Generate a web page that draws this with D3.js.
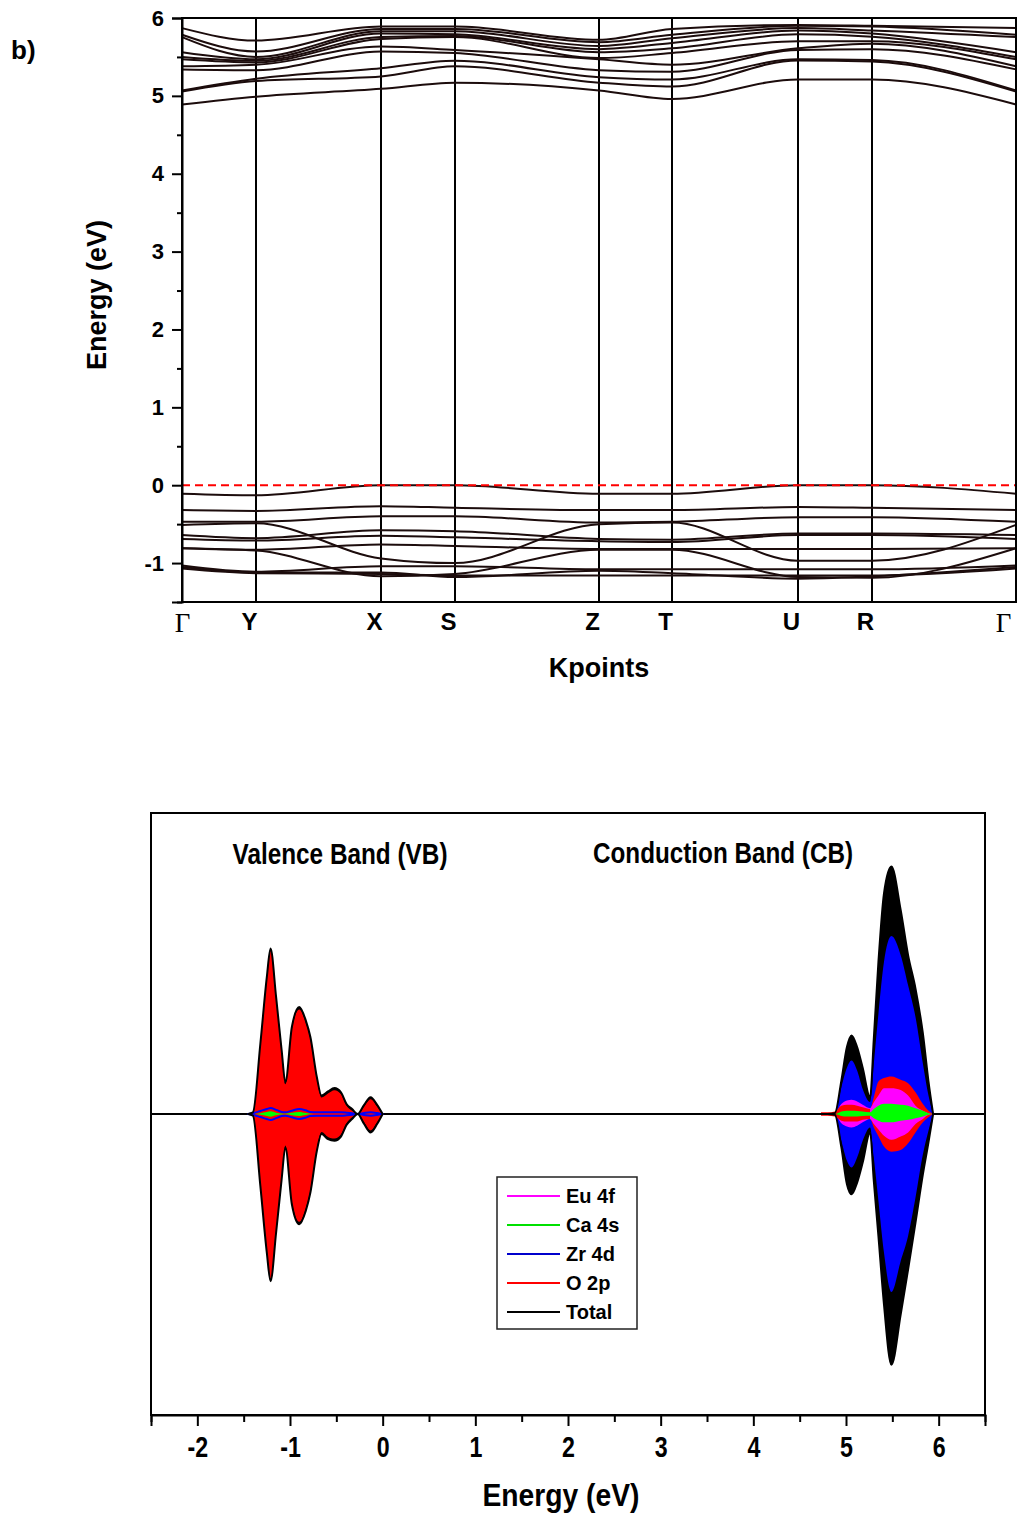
<!DOCTYPE html>
<html>
<head>
<meta charset="utf-8">
<script src="https://cdn.jsdelivr.net/npm/d3@7"></script>
<style>
  body { margin: 0; background: #fff; }
  svg { display: block; font-family: "Liberation Sans", Arial, sans-serif; }
</style>
</head>
<body>
<svg id="chart" width="1018" height="1519"></svg>
<script>
// ---- band structure data ----
const kLabels = ["Γ", "Y", "X", "S", "Z", "T", "U", "R", "Γ"];
const kDist = [0, 0.74, 1.99, 2.73, 4.17, 4.90, 6.16, 6.90, 8.34];
const energyTicks = [-1, 0, 1, 2, 3, 4, 5, 6];
const energyMinor = [-1.5, -0.5, 0.5, 1.5, 2.5, 3.5, 4.5, 5.5];

// values at Γ, Y, X, S, Z, T, U, R, Γ
const valenceBands = [
  [-0.11, -0.13, 0.00, 0.00, -0.11, -0.11, 0.00, 0.00, -0.11],
  [-0.32, -0.33, -0.27, -0.29, -0.32, -0.32, -0.28, -0.29, -0.32],
  [-0.47, -0.47, -0.40, -0.40, -0.48, -0.47, -0.41, -0.41, -0.47],
  [-0.51, -0.49, -0.94, -1.00, -0.50, -0.48, -0.97, -0.97, -0.51],
  [-0.64, -0.68, -0.58, -0.59, -0.69, -0.70, -0.62, -0.62, -0.64],
  [-0.69, -0.71, -0.65, -0.67, -0.72, -0.73, -0.64, -0.64, -0.69],
  [-0.81, -0.83, -0.76, -0.78, -0.82, -0.82, -0.82, -0.82, -0.81],
  [-0.81, -0.84, -1.17, -1.14, -0.83, -0.83, -1.18, -1.19, -0.81],
  [-1.03, -1.11, -1.04, -1.04, -1.08, -1.08, -1.08, -1.08, -1.03],
  [-1.05, -1.12, -1.12, -1.18, -1.10, -1.13, -1.20, -1.17, -1.05],
  [-1.07, -1.13, -1.14, -1.16, -1.16, -1.16, -1.16, -1.16, -1.07]
];
const conductionBands = [
  [4.89, 4.99, 5.09, 5.17, 5.07, 4.96, 5.21, 5.21, 4.89],
  [5.055, 5.19, 5.25, 5.38, 5.17, 5.12, 5.455, 5.44, 5.055],
  [5.07, 5.22, 5.355, 5.45, 5.24, 5.21, 5.47, 5.46, 5.07],
  [5.34, 5.33, 5.57, 5.55, 5.33, 5.31, 5.59, 5.60, 5.34],
  [5.38, 5.40, 5.635, 5.59, 5.47, 5.40, 5.61, 5.67, 5.38],
  [5.47, 5.43, 5.73, 5.755, 5.485, 5.55, 5.70, 5.70, 5.47],
  [5.50, 5.45, 5.755, 5.77, 5.56, 5.61, 5.79, 5.76, 5.50],
  [5.56, 5.47, 5.80, 5.79, 5.60, 5.68, 5.84, 5.80, 5.56],
  [5.755, 5.50, 5.83, 5.83, 5.64, 5.74, 5.87, 5.84, 5.755],
  [5.785, 5.57, 5.86, 5.86, 5.69, 5.785, 5.90, 5.89, 5.785],
  [5.87, 5.71, 5.89, 5.89, 5.72, 5.86, 5.91, 5.90, 5.87]
];

// ---- density of states data ----
const dosTicks = [-2, -1, 0, 1, 2, 3, 4, 5, 6];
const dosMinor = [-2.5, -1.5, -0.5, 0.5, 1.5, 2.5, 3.5, 4.5, 5.5, 6.5];

const vbEnergy = [-1.45, -1.40, -1.32, -1.25, -1.21, -1.15, -1.09, -1.05, -0.98, -0.90, -0.83, -0.78, -0.71, -0.66, -0.59, -0.52, -0.45, -0.39, -0.33, -0.27, -0.20, -0.13, -0.06, 0.0];
const vbTotalUp   = [0, 0.1, 4.2, 8.2, 9.9, 7.0, 3.8, 1.9, 5.2, 6.4, 5.6, 4.6, 2.2, 1.1, 1.35, 1.55, 1.3, 0.6, 0.3, 0.0, 0.55, 1.0, 0.55, 0];
const vbTotalDown = [0, 0.1, 4.3, 8.3, 10.0, 7.1, 3.9, 2.0, 5.4, 6.6, 5.8, 4.7, 2.2, 1.2, 1.5, 1.6, 1.35, 0.65, 0.3, 0.0, 0.6, 1.1, 0.6, 0];
const vbO2pUp     = [0, 0.05, 4.05, 8.05, 9.75, 6.85, 3.65, 1.78, 5.05, 6.25, 5.45, 4.45, 2.08, 0.98, 1.22, 1.42, 1.18, 0.5, 0.2, 0.0, 0.45, 0.88, 0.45, 0];
const vbO2pDown   = [0, 0.05, 4.15, 8.15, 9.85, 6.95, 3.75, 1.88, 5.25, 6.45, 5.65, 4.55, 2.08, 1.08, 1.37, 1.47, 1.23, 0.55, 0.2, 0.0, 0.5, 0.98, 0.5, 0];
const vbZr4dUp    = [0, 0.05, 0.18, 0.3, 0.36, 0.25, 0.12, 0.1, 0.2, 0.3, 0.22, 0.12, 0.1, 0.1, 0.1, 0.1, 0.1, 0.08, 0.05, 0.0, 0.06, 0.1, 0.06, 0];
const vbZr4dDown  = [0, 0.05, 0.18, 0.3, 0.36, 0.25, 0.12, 0.1, 0.2, 0.3, 0.22, 0.12, 0.1, 0.1, 0.1, 0.1, 0.1, 0.08, 0.05, 0.0, 0.06, 0.1, 0.06, 0];
const vbCa4sUp    = [0, 0, 0.05, 0.12, 0.16, 0.08, 0.03, 0.02, 0.07, 0.12, 0.06, 0.02, 0, 0, 0, 0, 0, 0, 0, 0, 0, 0, 0, 0];
const vbCa4sDown  = [0, 0, 0.05, 0.12, 0.16, 0.08, 0.03, 0.02, 0.07, 0.12, 0.06, 0.02, 0, 0, 0, 0, 0, 0, 0, 0, 0, 0, 0, 0];

const cbEnergy = [4.73, 4.80, 4.88, 4.95, 5.01, 5.06, 5.12, 5.18, 5.26, 5.30, 5.35, 5.41, 5.49, 5.59, 5.67, 5.75, 5.83, 5.89, 5.94];
const cbTotalUp   = [0, 0, 0.05, 2.0, 4.0, 4.7, 4.0, 2.76, 1.0, 4.5, 9.1, 13.2, 14.8, 12.2, 9.5, 7.5, 4.8, 1.95, 0];
const cbTotalDown = [0, 0, 0.05, 2.0, 4.2, 4.8, 4.1, 2.9, 1.1, 4.0, 7.3, 11.4, 15.0, 12.0, 9.3, 6.5, 3.6, 1.7, 0];
const cbZr4dUp    = [0, 0, 0.03, 1.6, 2.76, 3.2, 2.6, 1.5, 0.72, 3.0, 6.0, 9.1, 10.65, 9.5, 7.7, 5.8, 3.0, 1.1, 0];
const cbZr4dDown  = [0, 0, 0.03, 1.6, 2.8, 3.2, 2.6, 1.6, 0.8, 2.6, 5.2, 8.3, 10.65, 8.8, 7.3, 5.0, 2.4, 1.0, 0];
const cbO2pUp     = [0.1, 0.1, 0.15, 0.5, 0.55, 0.55, 0.5, 0.4, 0.3, 1.0, 1.95, 2.15, 2.25, 2.05, 1.84, 1.3, 0.6, 0.2, 0];
const cbO2pDown   = [0.1, 0.1, 0.15, 0.4, 0.45, 0.45, 0.45, 0.35, 0.3, 0.8, 1.33, 1.95, 2.25, 2.15, 1.75, 1.1, 0.5, 0.2, 0];
const cbEu4fUp    = [0, 0, 0.05, 0.6, 0.8, 0.85, 0.75, 0.55, 0.35, 0.7, 1.1, 1.54, 1.54, 1.43, 1.1, 0.5, 0.2, 0.05, 0];
const cbEu4fDown  = [0, 0, 0.05, 0.55, 0.75, 0.8, 0.7, 0.5, 0.3, 0.6, 0.92, 1.3, 1.54, 1.35, 1.1, 0.6, 0.3, 0.05, 0];
const cbCa4sUp    = [0, 0, 0, 0.15, 0.2, 0.2, 0.18, 0.15, 0.1, 0.3, 0.5, 0.62, 0.62, 0.55, 0.5, 0.35, 0.2, 0.05, 0];
const cbCa4sDown  = [0, 0, 0, 0.12, 0.15, 0.15, 0.15, 0.12, 0.1, 0.25, 0.4, 0.5, 0.5, 0.4, 0.35, 0.25, 0.15, 0.05, 0];

const legendNames = ["Eu 4f", "Ca 4s", "Zr 4d", "O 2p", "Total"];
const legendColors = ["#ff00ff", "#00e000", "#0000cc", "#ff0000", "#000000"];

const svg = d3.select("#chart");
const plainLabel = (d) => String(d);

// ================= panel b) band structure =================
const bx = d3.scaleLinear().domain([0, kDist[kDist.length - 1]]).range([182, 1016]);
const by = d3.scaleLinear().domain([-1.5, 6]).range([602, 18]);

svg.append("text").attr("x", 11).attr("y", 59)
  .attr("font-size", 26).attr("font-weight", "bold").text("b)");

// high-symmetry vertical lines
svg.append("g").selectAll("line").data(kDist).join("line")
  .attr("x1", (d) => bx(d)).attr("x2", (d) => bx(d))
  .attr("y1", by(6)).attr("y2", by(-1.5))
  .attr("stroke", "#000").attr("stroke-width", 2);

const bandLine = d3.line()
  .x((d, i) => bx(kDist[i]))
  .y((d) => by(d))
  .curve(d3.curveMonotoneX);

svg.append("g").selectAll("path").data(valenceBands.concat(conductionBands)).join("path")
  .attr("d", bandLine)
  .attr("fill", "none")
  .attr("stroke", "#1c0c0c")
  .attr("stroke-width", 2);

// Fermi level
svg.append("line")
  .attr("x1", bx(0)).attr("x2", bx(kDist[kDist.length - 1]))
  .attr("y1", by(0)).attr("y2", by(0))
  .attr("stroke", "#ff0000").attr("stroke-width", 2)
  .attr("stroke-dasharray", "8,5");

svg.append("rect")
  .attr("x", 182).attr("y", 18).attr("width", 834).attr("height", 584)
  .attr("fill", "none").attr("stroke", "#000").attr("stroke-width", 2);

const yAxis = svg.append("g").attr("transform", "translate(182,0)")
  .call(d3.axisLeft(by).tickValues(energyTicks).tickSize(10).tickPadding(8).tickFormat(plainLabel));
yAxis.select(".domain").attr("stroke-width", 2);
yAxis.selectAll(".tick line").attr("stroke-width", 2);
yAxis.selectAll("text").attr("font-size", 22).attr("font-weight", "bold")
  .attr("font-family", "'Liberation Sans', Arial, sans-serif").attr("fill", "#000");

const yMinor = svg.append("g").attr("transform", "translate(182,0)")
  .call(d3.axisLeft(by).tickValues(energyMinor).tickSize(5).tickFormat(""));
yMinor.select(".domain").remove();
yMinor.selectAll(".tick line").attr("stroke-width", 2);

const kAxis = svg.append("g").attr("transform", "translate(0,602)")
  .call(d3.axisBottom(bx).tickValues(kDist).tickSize(0).tickPadding(11)
    .tickFormat((d, i) => kLabels[i]));
kAxis.select(".domain").remove();
kAxis.selectAll("text")
  .attr("fill", "#000")
  .attr("font-size", (d, i) => (kLabels[i] === "Γ" ? 27 : 24))
  .attr("font-weight", (d, i) => (kLabels[i] === "Γ" ? "normal" : "bold"))
  .attr("font-family", (d, i) => (kLabels[i] === "Γ" ? "'Liberation Serif', 'Times New Roman', serif" : "'Liberation Sans', Arial, sans-serif"))
  .attr("dx", (d, i) => (i === 0 ? 0 : i === kDist.length - 1 ? -13 : -7));

svg.append("text").attr("x", 599).attr("y", 677).attr("text-anchor", "middle")
  .attr("font-size", 27).attr("font-weight", "bold").text("Kpoints");
svg.append("text").attr("transform", "translate(106,295) rotate(-90)")
  .attr("text-anchor", "middle").attr("font-size", 27).attr("font-weight", "bold")
  .text("Energy (eV)");

// ================= density of states =================
const dx = d3.scaleLinear().domain([-2.5, 6.5]).range([151, 985]);
const dy = d3.scaleLinear().domain([-18, 18]).range([1415, 813]);

// the main CB peak shows Eu 4f on top of O 2p, the first lobe the other way round
svg.append("defs").append("clipPath").attr("id", "cbMain")
  .append("rect")
  .attr("x", dx(5.26)).attr("y", dy(18))
  .attr("width", dx(6.5) - dx(5.26)).attr("height", dy(-18) - dy(18));

const dosArea = (energy, up, down) => d3.area()
  .x((d, i) => dx(energy[i]))
  .y0((d, i) => dy(-down[i]))
  .y1((d, i) => dy(up[i]))
  .curve(d3.curveMonotoneX)(energy);

const dosG = svg.append("g");

dosG.append("line")
  .attr("x1", dx(-2.5)).attr("x2", dx(6.5)).attr("y1", dy(0)).attr("y2", dy(0))
  .attr("stroke", "#000").attr("stroke-width", 2);

const layers = [
  { fill: "#000000", vb: [vbTotalUp, vbTotalDown], cb: [cbTotalUp, cbTotalDown] },
  { fill: "#0000ff", vb: [vbZr4dUp, vbZr4dDown], cb: [cbZr4dUp, cbZr4dDown] },
  { fill: "#ff00ff", vb: null, cb: [cbEu4fUp, cbEu4fDown] },
  { fill: "#ff0000", vb: [vbO2pUp, vbO2pDown], cb: [cbO2pUp, cbO2pDown] },
  { fill: "#ff00ff", vb: null, cb: [cbEu4fUp, cbEu4fDown], clip: "url(#cbMain)" },
  { stroke: "#0000ff", vb: [vbZr4dUp, vbZr4dDown], cb: null },
  { fill: "#00ff00", vb: [vbCa4sUp, vbCa4sDown], cb: [cbCa4sUp, cbCa4sDown] },
  { stroke: "#000000", vb: [vbTotalUp, vbTotalDown], cb: [cbTotalUp, cbTotalDown] }
];

layers.forEach((layer) => {
  [[vbEnergy, layer.vb], [cbEnergy, layer.cb]].forEach(([energy, vals]) => {
    if (!vals) return;
    dosG.append("path")
      .attr("d", dosArea(energy, vals[0], vals[1]))
      .attr("clip-path", layer.clip || null)
      .attr("fill", layer.fill || "none")
      .attr("stroke", layer.stroke || "none")
      .attr("stroke-width", layer.stroke ? 2 : 0)
      .attr("stroke-linejoin", "round");
  });
});

dosG.append("rect")
  .attr("x", 151).attr("y", 813).attr("width", 834).attr("height", 602)
  .attr("fill", "none").attr("stroke", "#000").attr("stroke-width", 2);

const xAxis = dosG.append("g").attr("transform", "translate(0,1415)")
  .call(d3.axisBottom(dx).tickValues(dosTicks).tickSize(11).tickPadding(10).tickFormat(plainLabel));
xAxis.select(".domain").attr("stroke-width", 2);
xAxis.selectAll(".tick line").attr("stroke-width", 2);
xAxis.selectAll("text").attr("font-size", 29).attr("font-weight", "bold")
  .attr("fill", "#000").attr("transform", "scale(0.8,1)");

const xMinor = dosG.append("g").attr("transform", "translate(0,1415)")
  .call(d3.axisBottom(dx).tickValues(dosMinor).tickSize(7).tickFormat(""));
xMinor.select(".domain").remove();
xMinor.selectAll(".tick line").attr("stroke-width", 2);

dosG.append("text").attr("x", 561).attr("y", 1506).attr("text-anchor", "middle")
  .attr("font-size", 31).attr("font-weight", "bold")
  .attr("textLength", 157).attr("lengthAdjust", "spacingAndGlyphs")
  .text("Energy (eV)");

dosG.append("text").attr("x", 340).attr("y", 864).attr("text-anchor", "middle")
  .attr("font-size", 29).attr("font-weight", "bold")
  .attr("textLength", 215).attr("lengthAdjust", "spacingAndGlyphs")
  .text("Valence Band (VB)");
dosG.append("text").attr("x", 723).attr("y", 863).attr("text-anchor", "middle")
  .attr("font-size", 29).attr("font-weight", "bold")
  .attr("textLength", 260).attr("lengthAdjust", "spacingAndGlyphs")
  .text("Conduction Band (CB)");

// legend
const legend = dosG.append("g").attr("transform", "translate(497,1177)");
legend.append("rect").attr("width", 140).attr("height", 152)
  .attr("fill", "#fff").attr("stroke", "#222").attr("stroke-width", 1.5);
const rows = legend.selectAll("g.row").data(legendNames).join("g")
  .attr("class", "row")
  .attr("transform", (d, i) => `translate(0,${19 + i * 29})`);
rows.append("line").attr("x1", 10).attr("x2", 63)
  .attr("stroke", (d, i) => legendColors[i]).attr("stroke-width", 2);
rows.append("text").attr("x", 69).attr("dy", "0.36em")
  .attr("font-size", 20).attr("font-weight", "bold").text((d) => d);
</script>
</body>
</html>
